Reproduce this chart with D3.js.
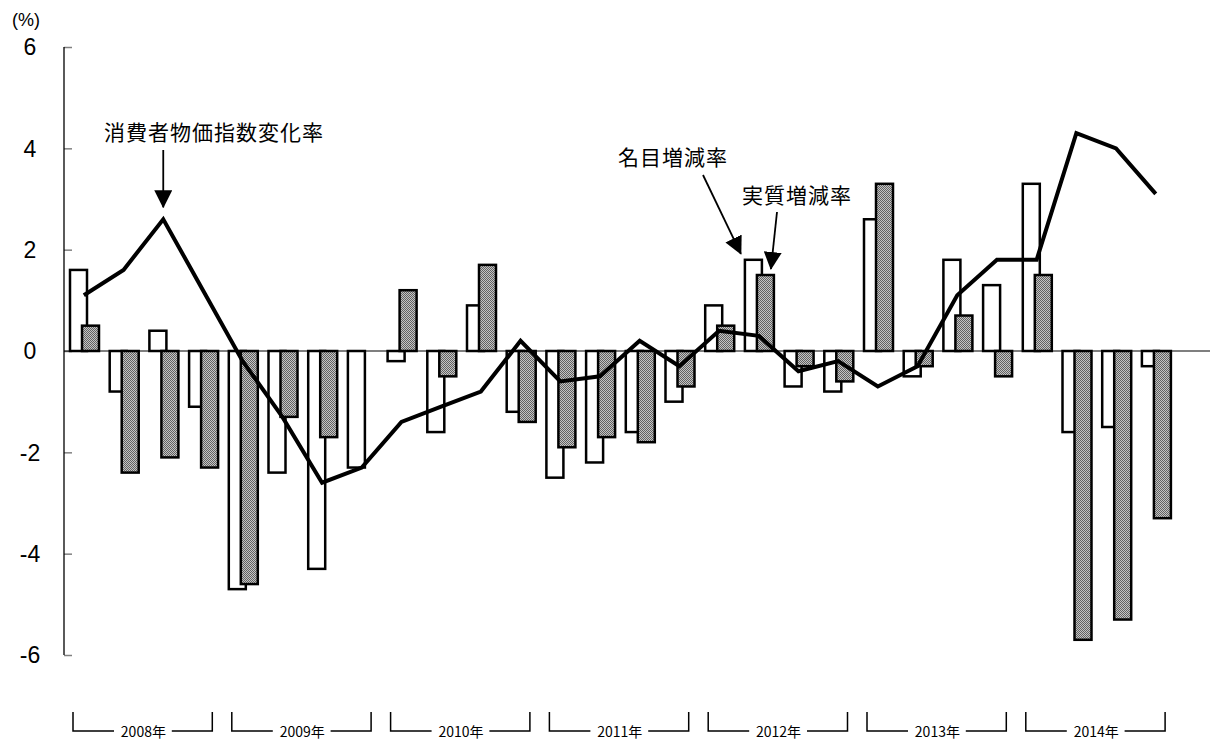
<!DOCTYPE html>
<html lang="ja">
<head>
<meta charset="utf-8">
<script src="https://cdn.jsdelivr.net/npm/d3@7/dist/d3.min.js"></script>
<style>
  html, body { margin: 0; padding: 0; background: #fff; }
  svg { display: block; }
  .num { font-family: "Liberation Sans", Arial, sans-serif; }
  .jp { font-family: "Noto Sans CJK JP", "Noto Sans", sans-serif; }
</style>
</head>
<body>
<svg id="chart" width="1214" height="743"></svg>
<script>
// Quarterly year-on-year rates, 2008 Q1 – 2014 Q4 (%)
const years = ["2008年", "2009年", "2010年", "2011年", "2012年", "2013年", "2014年"];
const quarters = ["1", "2", "3", "4"];
const nominal = [1.6, -0.8, 0.4, -1.1, -4.7, -2.4, -4.3, -2.3, -0.2, -1.6, 0.9, -1.2, -2.5, -2.2,
                 -1.6, -1.0, 0.9, 1.8, -0.7, -0.8, 2.6, -0.5, 1.8, 1.3, 3.3, -1.6, -1.5, -0.3];
const real = [0.5, -2.4, -2.1, -2.3, -4.6, -1.3, -1.7, 0.0, 1.2, -0.5, 1.7, -1.4, -1.9, -1.7,
              -1.8, -0.7, 0.5, 1.5, -0.3, -0.6, 3.3, -0.3, 0.7, -0.5, 1.5, -5.7, -5.3, -3.3];
const cpi = [1.1, 1.6, 2.6, 1.2, -0.2, -1.3, -2.6, -2.3, -1.4, -1.1, -0.8, 0.2, -0.6, -0.5,
             0.2, -0.3, 0.4, 0.3, -0.4, -0.2, -0.7, -0.3, 1.1, 1.8, 1.8, 4.3, 4.0, 3.1];
const yTicks = [6, 4, 2, 0, -2, -4, -6];

const periods = years.flatMap(yr => quarters.map(q => yr + q));

const svg = d3.select("#chart");
const plotLeft = 64, plotRight = 1175.6, plotTop = 47, plotBottom = 655;

const x = d3.scaleBand().domain(periods).range([plotLeft, plotRight]).padding(0);
const xYear = d3.scaleBand().domain(years).range([plotLeft, plotRight]).padding(0);
const y = d3.scaleLinear().domain([-6, 6]).range([plotBottom, plotTop]);

// Checked grey fill for the real-rate bars
const defs = svg.append("defs");
const pat = defs.append("pattern").attr("id", "checks")
  .attr("width", 2).attr("height", 2).attr("patternUnits", "userSpaceOnUse");
pat.append("rect").attr("width", 2).attr("height", 2).attr("fill", "#c4c4c4");
pat.append("rect").attr("width", 1).attr("height", 1).attr("fill", "#626262");
pat.append("rect").attr("x", 1).attr("y", 1).attr("width", 1).attr("height", 1).attr("fill", "#626262");

defs.append("marker").attr("id", "head")
  .attr("viewBox", "0 0 18 18").attr("refX", 17).attr("refY", 9)
  .attr("markerWidth", 18).attr("markerHeight", 18)
  .attr("markerUnits", "userSpaceOnUse").attr("orient", "auto")
  .append("path").attr("d", "M0,0 L18,9 L0,18 Z").attr("fill", "#000");

// Y axis: line with inward grey ticks
const yAxis = svg.append("g").attr("transform", `translate(${plotLeft},0)`)
  .call(d3.axisRight(y).tickValues(yTicks).tickSize(8).tickFormat(""));
yAxis.select(".domain").remove();
yAxis.selectAll(".tick line").attr("stroke", "#808080").attr("stroke-width", 1.5);
svg.append("line").attr("x1", plotLeft).attr("x2", plotLeft).attr("y1", plotTop).attr("y2", plotBottom)
  .attr("stroke", "#000").attr("stroke-width", 1.3);

svg.append("g").selectAll("text").data(yTicks).join("text")
  .attr("class", "num")
  .attr("x", 30).attr("y", d => y(d)).attr("dy", "0.36em")
  .attr("text-anchor", "middle").attr("font-size", 23).attr("fill", "#000")
  .text(d => d);

svg.append("text").attr("class", "num").attr("x", 26).attr("y", 26)
  .attr("text-anchor", "middle").attr("font-size", 18).text("(%)");

// Bars: nominal (white) with real (checked) drawn over it, shifted right
const bw = 17;
const bars = svg.append("g");
bars.selectAll("rect.nom").data(nominal).join("rect").attr("class", "nom")
  .attr("x", (d, i) => x(periods[i]) + 6)
  .attr("y", d => y(Math.max(0, d)))
  .attr("width", bw)
  .attr("height", d => Math.abs(y(d) - y(0)))
  .attr("fill", "#fff").attr("stroke", "#000")
  .attr("stroke-width", d => d === 0 ? 0 : 2.5);
bars.selectAll("rect.real").data(real).join("rect").attr("class", "real")
  .attr("x", (d, i) => x(periods[i]) + 18)
  .attr("y", d => y(Math.max(0, d)))
  .attr("width", bw)
  .attr("height", d => Math.abs(y(d) - y(0)))
  .attr("fill", "url(#checks)").attr("stroke", "#000")
  .attr("stroke-width", d => d === 0 ? 0 : 2.5);

// Zero line
svg.append("line").attr("x1", plotLeft).attr("x2", 1210).attr("y1", y(0)).attr("y2", y(0))
  .attr("stroke", "#000").attr("stroke-width", 1.2);

// CPI line
const line = d3.line().x((d, i) => x(periods[i]) + x.bandwidth() / 2).y(d => y(d));
svg.append("path").datum(cpi).attr("d", line)
  .attr("fill", "none").attr("stroke", "#000").attr("stroke-width", 4)
  .attr("stroke-linejoin", "miter");

// Year brackets along the bottom
const yg = svg.append("g").selectAll("g").data(years).join("g")
  .attr("transform", d => `translate(${xYear(d)},0)`);
const yw = xYear.bandwidth();
yg.append("path")
  .attr("d", `M9,712 V731 H50`)
  .attr("fill", "none").attr("stroke", "#000").attr("stroke-width", 1.5);
yg.append("path")
  .attr("d", `M${yw - 10.5},712 V731 H${yw - 51}`)
  .attr("fill", "none").attr("stroke", "#000").attr("stroke-width", 1.5);
yg.append("text").attr("class", "jp")
  .attr("x", yw / 2).attr("y", 737).attr("text-anchor", "middle")
  .attr("font-size", 14).text(d => d);

// Annotations
const ann = svg.append("g").attr("class", "jp").attr("font-size", 21).attr("fill", "#000");
const cx = i => x(periods[i]) + x.bandwidth() / 2;

ann.append("text").attr("x", 104).attr("y", 140).attr("letter-spacing", 1).text("消費者物価指数変化率");
ann.append("line").attr("x1", cx(2)).attr("y1", 150).attr("x2", cx(2)).attr("y2", y(cpi[2]) - 12)
  .attr("stroke", "#000").attr("stroke-width", 1.8).attr("marker-end", "url(#head)");

ann.append("text").attr("x", 618).attr("y", 165).attr("letter-spacing", 1).text("名目増減率");
ann.append("line").attr("x1", 703).attr("y1", 175).attr("x2", x(periods[17]) + 2).attr("y2", y(nominal[17]) - 6)
  .attr("stroke", "#000").attr("stroke-width", 1.8).attr("marker-end", "url(#head)");

ann.append("text").attr("x", 742).attr("y", 203).attr("letter-spacing", 1).text("実質増減率");
ann.append("line").attr("x1", 777).attr("y1", 212).attr("x2", x(periods[17]) + 32).attr("y2", y(real[17]) - 6)
  .attr("stroke", "#000").attr("stroke-width", 1.8).attr("marker-end", "url(#head)");
</script>
</body>
</html>
